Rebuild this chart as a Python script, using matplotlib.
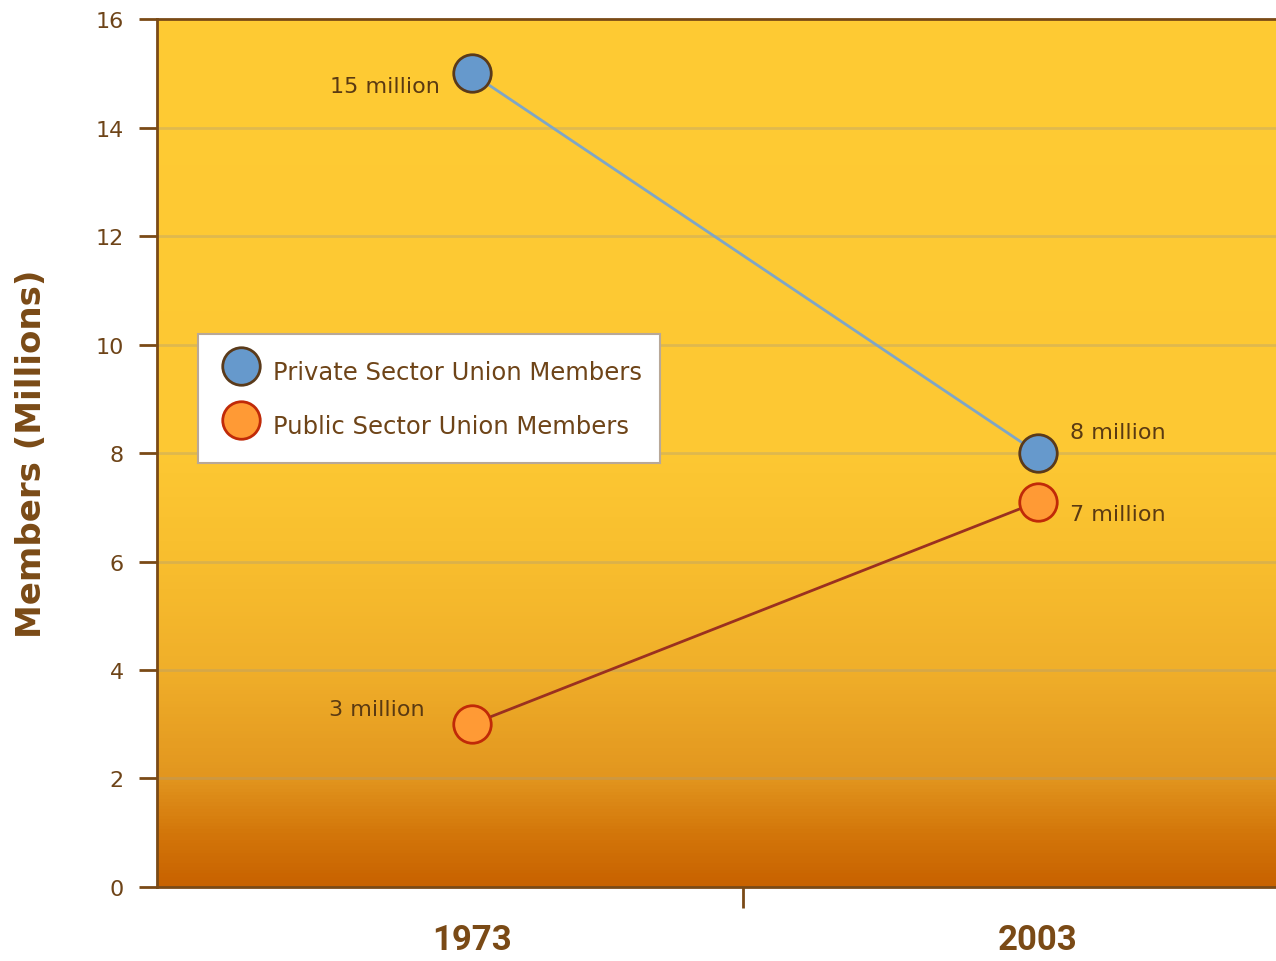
import matplotlib.pyplot as plt
import numpy as np
from matplotlib.colors import LinearSegmentedColormap

# data
years = ['1973', '2003']
private = [15.0, 8.0]
public = [3.0, 7.1]
private_labels = ['15 million', '8 million']
public_labels = ['3 million', '7 million']
yticks = [0, 2, 4, 6, 8, 10, 12, 14, 16]

brown = '#6e4418'
dark_brown = '#7a4a16'

fig = plt.figure(figsize=(12.76, 9.62), dpi=100)
ax = fig.add_axes([0.123, 0.077, 0.912, 0.902])

x = np.arange(len(years))
ax.set_xlim(-0.556, 1.5)
ax.set_ylim(0, 16)

# gradient background (yellow -> dark orange)
cmap = LinearSegmentedColormap.from_list('bg', [
    (0.0, '#c86200'), (0.06, '#d3760a'), (0.125, '#e2961f'),
    (0.25, '#f0af2a'), (0.375, '#f8be2e'), (0.5, '#fdc833'),
    (1.0, '#ffcb33')])
grad = np.linspace(0, 1, 256).reshape(-1, 1)
ax.imshow(grad, cmap=cmap, origin='lower', aspect='auto',
          extent=[-0.556, 1.5, 0, 16], zorder=0)

# grid
for yv in yticks[1:-1]:
    ax.axhline(yv, color='#a89c80', alpha=0.35, linewidth=2, zorder=1)

ax.plot(x, private, color='#7fa6c6', linewidth=2, zorder=3)
ax.plot(x, public, color='#9a3020', linewidth=2, zorder=3)
ax.plot(x, private, 'o', markersize=27, markerfacecolor='#6699cc',
        markeredgecolor='#5a3a1a', markeredgewidth=2, linestyle='none',
        zorder=4, label='Private Sector Union Members')
ax.plot(x, public, 'o', markersize=27, markerfacecolor='#ff9a35',
        markeredgecolor='#c02a08', markeredgewidth=2, linestyle='none',
        zorder=4, label='Public Sector Union Members')

# value labels
lab_font = dict(fontsize=16, color='#5a3a12', family='DejaVu Sans')
priv_off = [(-32, -13, 'right'), (32, 21, 'left')]
pub_off = [(-47, 15, 'right'), (32, -12, 'left')]
for i in range(len(years)):
    dx, dy, ha = priv_off[i]
    ax.annotate(private_labels[i], (x[i], private[i]), xytext=(dx, dy),
                textcoords='offset pixels', ha=ha, va='center', **lab_font)
    dx, dy, ha = pub_off[i]
    ax.annotate(public_labels[i], (x[i], public[i]), xytext=(dx, dy),
                textcoords='offset pixels', ha=ha, va='center', **lab_font)

# axes styling
for s in ['left', 'bottom', 'top']:
    ax.spines[s].set_color(dark_brown)
    ax.spines[s].set_linewidth(2)
ax.spines['right'].set_visible(False)

ax.set_yticks(yticks)
ax.set_yticklabels([str(v) for v in yticks], fontsize=16, color=brown,
                   family='DejaVu Sans')
ax.tick_params(axis='y', direction='out', length=13, width=2,
               color=dark_brown, pad=11)

ax.set_xticks(x)
ax.set_xticklabels(years, fontsize=25, fontweight='bold', color=dark_brown,
                   family='Roboto')
ax.tick_params(axis='x', which='major', length=0, pad=26)
ax.set_xticks([0.48], minor=True)
ax.tick_params(axis='x', which='minor', direction='out', length=15, width=2,
               color=dark_brown)

ax.set_ylabel('Members (Millions)', fontsize=24.5, fontweight='bold',
              color=dark_brown, family='DejaVu Sans')
ax.yaxis.set_label_coords(-0.094, 0.5)

leg = ax.legend(loc='upper left', bbox_to_anchor=(0.035, 0.637),
                prop={'family': 'DejaVu Sans', 'size': 17.5},
                frameon=True, fancybox=False, framealpha=1,
                edgecolor='#b8a898', borderpad=0.75, labelspacing=0.7,
                handletextpad=0.3, markerscale=1.0, handlelength=2.05,
                handleheight=2.0, borderaxespad=0)
for t in leg.get_texts():
    t.set_color(brown)
leg.get_frame().set_linewidth(1.5)

fig.savefig('out.png', dpi=100)
